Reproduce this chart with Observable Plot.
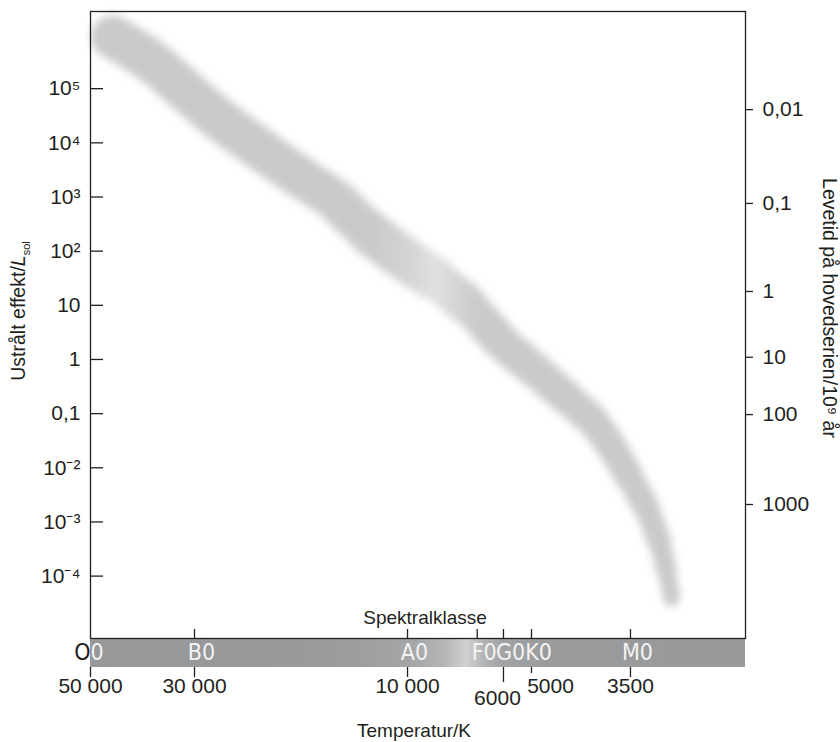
<!DOCTYPE html>
<html>
<head>
<meta charset="utf-8">
<script src="https://cdn.jsdelivr.net/npm/d3@7"></script>
<script src="https://cdn.jsdelivr.net/npm/@observablehq/plot@0.6"></script>
<style>
  html, body { margin: 0; padding: 0; background: #fff; }
</style>
</head>
<body>
<div id="chart"></div>
<script>
// ---------------- data ----------------
const lumTicks = [1e5, 1e4, 1e3, 100, 10, 1, 0.1, 0.01, 0.001, 0.0001];
const lumTickLabels = ["10⁵", "10⁴", "10³", "10²", "10", "1", "0,1", "10⁻²", "10⁻³", "10⁻⁴"];

// main-sequence lifetime (10^9 yr) and the luminosity level where each sits
const lifeTickLabels = ["0,01", "0,1", "1", "10", "100", "1000"];
const lifeTickLum = [4.1e4, 760, 18, 1.1, 0.096, 0.0021];

const tempTicks = [50000, 30000, 10000, 6000, 5000, 3500];
const tempTickLabels = ["50 000", "30 000", "10 000", "6000", "5000", "3500"];

const spectralClasses = ["O0", "B0", "A0", "F0", "G0", "K0", "M0"];
const spectralTemps = [50000, 30000, 10000, 6900, 6000, 5000, 3500];

// centre line of the main-sequence band: temperature (K) and luminosity (L_sol)
const msTemp = [44900, 37200, 31400, 26500, 20500, 17200, 14500, 12300, 10400, 8700, 7270, 6100, 4970, 4390, 4040, 3760, 3526, 3316, 3160, 3074, 3019];
const msLum  = [9.1e5, 3.3e5, 9.3e4, 2.8e4, 6.0e3, 2.2e3, 880, 240, 83, 32, 10, 2.2, 0.68, 0.19, 0.081, 0.026, 0.0072, 0.0020, 4.6e-4, 1.27e-4, 4.0e-5];

const leftTitle = "Ustrålt effekt/Lsol";
const rightTitle = "Levetid på hovedserien/10⁹ år";
const specTitle = "Spektralklasse";
const tempTitle = "Temperatur/K";

// ---------------- scales / helpers ----------------
// the temperature axis of the figure is only roughly logarithmic:
// piecewise-log calibration of temperature onto percent of axis width
const axisCalibration = [0, 15.88, 48.4, 63.05, 67.33, 82.44];
const tempToU = d3.scaleLog().domain(tempTicks).range(axisCalibration);

const yDomain = [10 ** -5.152, 10 ** 6.425];
const FONT = "'Liberation Sans', Arial, sans-serif";
const NARROW = "'Liberation Sans Narrow', 'DejaVu Sans Condensed', 'Liberation Sans', sans-serif";
const INK = "#231f20";
const LABEL_WHITE = "#f3f3f3";

const ms = msTemp.map((T, i) => ({T, L: msLum[i]}));
const spectral = spectralClasses.map((c, i) => ({c, T: spectralTemps[i]}));
const temps = tempTicks.map((T, i) => ({T, label: tempTickLabels[i]}));
const lumLabel = new Map(lumTicks.map((v, i) => [v, lumTickLabels[i]]));
const lifeLabel = new Map(lifeTickLum.map((v, i) => [v, lifeTickLabels[i]]));

const msX = d => tempToU(d.T);
const ribbon = (data, w) => Plot.line(data, {
  x: msX, y: "L", curve: "catmull-rom",
  stroke: "url(#msGrad)", strokeWidth: w,
  strokeLinecap: "round", strokeLinejoin: "round"
});
// band thickness tapers gently towards the cool end (style, by vertex index)
const taper = d3.scaleLinear().domain([5, 10, 13, 16, 18, 20]).range([42, 38, 34, 29, 24, 17]).clamp(true);
const ribbonMarks = d3.range(ms.length - 1, 0, -1).map(k => ribbon(ms.slice(0, k + 1), taper(k)));
// slight swelling of the band around the A stars
const swell = [ribbon(ms.slice(6, 11), 40), ribbon(ms.slice(6, 10), 42), ribbon(ms.slice(7, 10), 44)];

// tick length styling for the crowded temperature ticks
const longTick = 6000, shortTick = 5000;
const normalTemps = temps.filter(d => d.T !== longTick && d.T !== shortTick);

const chart = Plot.plot({
  width: 840,
  height: 742,
  marginLeft: 90,
  marginRight: 95,
  marginTop: 11,
  marginBottom: 104,
  style: {fontFamily: FONT, color: INK, background: "white", overflow: "visible"},
  x: {domain: [0, 100], axis: null},
  y: {type: "log", domain: yDomain, axis: null},
  marks: [
    // spectral class bar below the frame
    Plot.rect([0], {x1: 0, x2: 100, y1: yDomain[0], y2: yDomain[0], insetBottom: -29, fill: "url(#specGrad)"}),

    // main sequence band
    ...ribbonMarks,
    ...swell,

    Plot.frame({stroke: INK, strokeWidth: 1.3}),

    // left luminosity axis (ticks pointing inwards)
    Plot.axisY(lumTicks, {
      anchor: "left", tickSize: -13, tickPadding: 23, strokeWidth: 1.3,
      tickFormat: d => lumLabel.get(d), fontSize: 21, label: null
    }),
    // right lifetime axis
    Plot.axisY(lifeTickLum, {
      anchor: "right", tickSize: 7, tickPadding: 10, strokeWidth: 1.3,
      tickFormat: d => lifeLabel.get(d), fontSize: 21, label: null
    }),

    // spectral ticks (upwards, above the bar)
    Plot.axisX(spectral.slice(1).map(d => tempToU(d.T)), {
      anchor: "bottom", tickSize: -9, strokeWidth: 1.3, tickFormat: () => "", label: null
    }),
    // temperature ticks below the bar
    Plot.axisX(normalTemps.map(d => tempToU(d.T)), {
      anchor: "bottom", tickSize: 10, dy: 29, strokeWidth: 1.3, tickFormat: () => "", label: null
    }),
    Plot.axisX([tempToU(longTick)], {
      anchor: "bottom", tickSize: 15, dy: 29, strokeWidth: 1.3, tickFormat: () => "", label: null
    }),
    Plot.axisX([tempToU(shortTick)], {
      anchor: "bottom", tickSize: 6, dy: 29, strokeWidth: 1.3, tickFormat: () => "", label: null
    }),

    // spectral class labels inside the bar
    Plot.text(spectral.slice(1), {
      x: msX, text: "c", frameAnchor: "bottom", dy: 14, dx: 7,
      fill: LABEL_WHITE, fontSize: 23, fontFamily: NARROW, lineAnchor: "middle"
    }),
    Plot.text([spectral[0]], {
      x: msX, text: d => d.c.slice(0, 1), frameAnchor: "bottom", dy: 14, textAnchor: "end",
      fill: INK, fontSize: 23, fontFamily: NARROW, lineAnchor: "middle"
    }),
    Plot.text([spectral[0]], {
      x: msX, text: d => d.c.slice(1), frameAnchor: "bottom", dy: 14, textAnchor: "start",
      fill: LABEL_WHITE, fontSize: 23, fontFamily: NARROW, lineAnchor: "middle"
    }),

    // temperature labels
    Plot.text(normalTemps, {
      x: msX, text: "label", frameAnchor: "bottom", dy: 48, fontSize: 21, lineAnchor: "middle"
    }),
    Plot.text(temps.filter(d => d.T === longTick), {
      x: msX, text: "label", frameAnchor: "bottom", dy: 60, dx: -6, fontSize: 21, lineAnchor: "middle"
    }),
    Plot.text(temps.filter(d => d.T === shortTick), {
      x: msX, text: "label", frameAnchor: "bottom", dy: 48, dx: 19, fontSize: 21, lineAnchor: "middle"
    }),

    // titles
    Plot.text([specTitle], {frameAnchor: "bottom", dx: 7, dy: -21, fontSize: 19, lineAnchor: "middle", textAnchor: "middle"}),
    Plot.text([tempTitle], {frameAnchor: "bottom", dx: -4, dy: 92, fontSize: 19, lineAnchor: "middle", textAnchor: "middle"}),
    Plot.text([leftTitle], {frameAnchor: "left", dx: -72, dy: -14, rotate: -90, fontSize: 19.5, lineAnchor: "middle", textAnchor: "middle"}),
    Plot.text([rightTitle], {frameAnchor: "right", dx: 84, dy: -17, rotate: 90, fontSize: 19.5, lineAnchor: "middle", textAnchor: "middle"})
  ]
});

// ---------------- styling definitions: gradients and soft edge ----------------
const svg = d3.select(chart);
const defs = svg.insert("defs", ":first-child");

const spec = defs.append("linearGradient").attr("id", "specGrad").attr("x1", 0).attr("x2", 1).attr("y1", 0).attr("y2", 0);
[[0, "#97989a"], [0.30, "#98999b"], [0.40, "#9c9d9f"], [0.49, "#a4a5a7"], [0.54, "#b4b5b7"],
 [0.575, "#d0d1d3"], [0.60, "#b3b4b6"], [0.63, "#a2a3a5"], [0.70, "#9a9b9d"], [1, "#98999b"]]
  .forEach(([o, c]) => spec.append("stop").attr("offset", o).attr("stop-color", c));

const msg = defs.append("linearGradient").attr("id", "msGrad").attr("gradientUnits", "userSpaceOnUse")
  .attr("x1", 90).attr("x2", 745).attr("y1", 0).attr("y2", 0);
[[0, "#c8c9cb"], [0.43, "#c9cacc"], [0.49, "#d3d4d6"], [0.525, "#e0e1e2"], [0.56, "#d3d4d6"],
 [0.59, "#c9cacc"], [1, "#c8c9cb"]]
  .forEach(([o, c]) => msg.append("stop").attr("offset", o).attr("stop-color", c));

defs.append("filter").attr("id", "soft").attr("x", "-20%").attr("y", "-20%").attr("width", "140%").attr("height", "140%")
  .append("feGaussianBlur").attr("stdDeviation", 4.5);

const lineGs = svg.selectAll('g[aria-label="line"]').nodes();
if (lineGs.length) {
  const wrap = svg.insert("g", () => lineGs[0]).attr("filter", "url(#soft)");
  lineGs.forEach(n => wrap.node().appendChild(n));
}

// italic L with subscript "sol" in the left title
svg.selectAll("text").filter(function () { return this.textContent === leftTitle; }).each(function () {
  const t = d3.select(this);
  t.text(null);
  t.append("tspan").text("Ustrålt effekt/");
  t.append("tspan").attr("font-style", "italic").text("L");
  t.append("tspan").attr("font-size", 11).attr("dy", 5).text("sol");
});

document.getElementById("chart").appendChild(chart);
</script>
</body>
</html>
